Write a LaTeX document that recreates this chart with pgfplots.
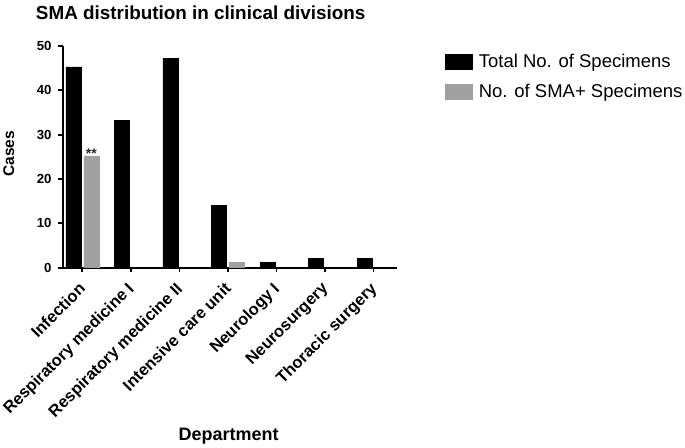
\documentclass[border=0pt]{standalone}
\usepackage{pgfplots}
\pgfplotsset{compat=1.18}
\usepackage{fontspec}
\setmainfont{Liberation Sans}
\definecolor{smagray}{RGB}{160,160,160}
\begin{document}
\begin{tikzpicture}
\begin{axis}[
  name=ax,
  scale only axis, width=335bp, height=222bp,
  xmin=-0.405, xmax=6.49, ymin=0, ymax=50,
  axis x line=bottom, axis y line=left,
  axis line style={line width=1.8bp, -},
  tick align=outside,
  major tick length=4.5bp,
  tick style={line width=1.8bp, black},
  xtick={0,1,2,3,4,5,6},
  xticklabels={Infection, Respiratory medicine I, Respiratory medicine II, Intensive care unit, Neurology I, Neurosurgery, Thoracic surgery},
  ytick={0,10,20,30,40,50},
  /pgf/number format/assume math mode=true,
  yticklabel style={font=\fontsize{13.2bp}{16bp}\selectfont\bfseries, inner sep=2bp, xshift=-4.5bp},
  xticklabel style={xshift=-4.5bp, yshift=-7.5bp, rotate=45, anchor=north east, inner sep=1bp, font=\fontsize{16.5bp}{19bp}\selectfont\bfseries},
  ylabel={Cases},
  ylabel style={font=\fontsize{15.5bp}{18bp}\selectfont\bfseries, at={(axis description cs:-0.161,0.514)}, anchor=center, rotate=0},
  xlabel={Department},
  xlabel style={font=\fontsize{18bp}{21bp}\selectfont\bfseries, at={(axis description cs:0.496,-0.779)}, anchor=base},
  legend style={at={(axis description cs:1.143,0.972)}, anchor=north west, draw=none, fill=none,
    font=\fontsize{18.5bp}{21bp}\selectfont, row sep=11bp, inner sep=0pt,
    nodes={inner sep=2bp}, column sep=4bp},
  legend cell align=left,
  clip=false,
]
\addplot[ybar, bar width=0.31, bar shift=-0.185, fill=black, draw=black, line width=0.5bp,
  legend image code/.code={\fill[black] (0bp,-7.5bp) rectangle (27bp,7.5bp);}]
  coordinates {(0,45.3) (1,33.2) (2,47.2) (3,14.1) (4,1.2) (5,2.1) (6,2.1)};
\addlegendentry{Total No. of Specimens}
\addplot[ybar, bar width=0.31, bar shift=0.185, fill=smagray, draw=smagray, line width=0.5bp,
  legend image code/.code={\fill[smagray] (0bp,-7.5bp) rectangle (27bp,7.5bp);}]
  coordinates {(0,25.2) (3,1.2)};
\addlegendentry{No. of SMA+ Specimens}
\node[anchor=base, font=\fontsize{14bp}{16bp}\selectfont\bfseries, inner sep=0pt, text=black!85] at (axis cs:0.185,24.6) {**};
\end{axis}
\node[anchor=base west, font=\fontsize{18.9bp}{22bp}\selectfont\bfseries, inner sep=0pt] at ([xshift=-27bp,yshift=248bp]ax.south west) {SMA distribution in clinical divisions};
\path[use as bounding box] ([xshift=-62bp,yshift=-177bp]ax.south west) rectangle ([xshift=623bp,yshift=268bp]ax.south west);
\end{tikzpicture}
\end{document}
